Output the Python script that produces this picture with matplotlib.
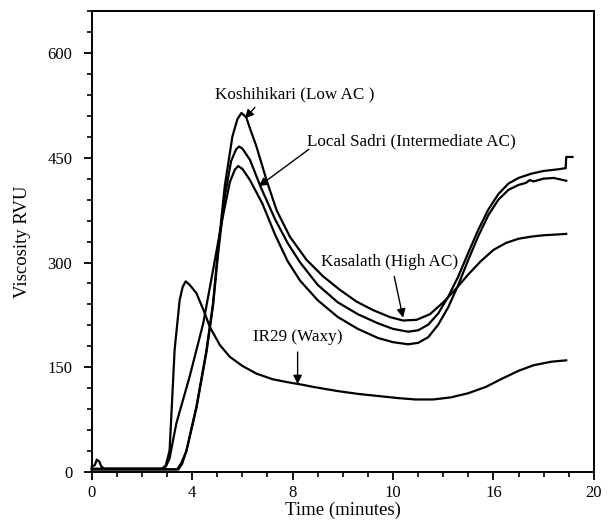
import matplotlib
matplotlib.use('Agg')
import matplotlib.pyplot as plt
from matplotlib.ticker import MultipleLocator, FixedLocator

plt.rcParams.update({
    'font.family': ['Liberation Serif', 'DejaVu Serif'],
    'font.size': 11,
})

# ── data ─────────────────────────────────────────────────────────────────────
# IR29 (waxy)
ir29_t = [0.0, 0.12, 0.2, 0.3, 0.38, 0.5, 1.5, 2.8, 2.95, 3.1, 3.3, 3.5, 3.62, 3.74,
          3.9, 4.17, 4.45, 4.7, 5.1, 5.5, 6.0, 6.56, 7.2, 7.76, 8.4, 8.82, 9.8,
          10.6, 11.4, 12.2, 12.9, 13.6, 14.3, 15.0, 15.7, 16.3, 17.0, 17.6, 18.3, 18.9]
ir29_v = [8, 10, 18, 15, 8, 5, 5, 5, 10, 31, 175, 246, 265, 273,
          268, 256, 232, 208, 182, 165, 152, 141, 133, 129, 125, 122, 116,
          112, 109, 106, 104, 104, 107, 113, 122, 133, 145, 153, 158, 160]

# three non-waxy cultivars
kosh_t = [0.0, 2.0, 3.45, 3.6, 3.77, 4.17, 4.57, 4.83, 5.03, 5.3, 5.6, 5.8, 5.96,
          6.15, 6.3, 6.56, 6.96, 7.36, 7.89, 8.55, 9.22, 9.88, 10.55, 11.2, 11.87,
          12.4, 12.94, 13.47, 14.0, 14.5, 15.0, 15.5, 16.0, 16.5, 17.0, 17.5, 18.0,
          18.5, 18.9]
kosh_v = [4, 4, 4, 12, 31, 94, 175, 242, 318, 410, 480, 505, 514,
          508, 492, 466, 418, 375, 337, 304, 280, 261, 244, 232, 222,
          217, 218, 226, 243, 262, 283, 302, 318, 328, 334, 337, 339,
          340, 341]

sadri_t = [0.0, 2.0, 3.4, 3.55, 3.77, 4.17, 4.57, 4.83, 5.03, 5.3, 5.55, 5.75, 5.87,
           6.0, 6.3, 6.73, 7.3, 7.8, 8.3, 9.0, 9.8, 10.6, 11.4, 12.0, 12.6, 13.0,
           13.4, 13.8, 14.2, 14.6, 15.0, 15.4, 15.8, 16.2, 16.6, 17.0, 17.5, 18.0,
           18.5, 18.88, 18.9, 19.15]
sadri_v = [4, 4, 4, 12, 30, 92, 172, 238, 312, 395, 445, 462, 466,
           463, 447, 408, 362, 328, 300, 268, 243, 226, 213, 205, 201, 203,
           211, 227, 251, 280, 314, 347, 376, 398, 413, 421, 427, 431,
           433, 435, 451, 451]

kasa_t = [0.0, 2.0, 2.8, 2.95, 3.1, 3.37, 3.9, 4.44, 4.83, 5.2, 5.5, 5.7, 5.83,
          6.0, 6.3, 6.8, 7.3, 7.8, 8.3, 9.0, 9.8, 10.6, 11.4, 12.0, 12.6, 13.0,
          13.4, 13.8, 14.2, 14.6, 15.0, 15.4, 15.8, 16.2, 16.6, 17.0, 17.3, 17.45,
          17.6, 18.0, 18.4, 18.9]
kasa_v = [5, 5, 5, 8, 20, 70, 137, 213, 289, 362, 415, 433, 438,
          434, 418, 384, 340, 302, 274, 246, 222, 205, 192, 186, 183, 185,
          193, 211, 236, 268, 304, 338, 368, 390, 404, 411, 414, 418,
          416, 420, 421, 417]

# annotations: text, text position, arrow tail, arrow tip
labels = ['Koshihikari (Low AC )', 'Local Sadri (Intermediate AC)',
          'Kasalath (High AC)', 'IR29 (Waxy)']
label_pos = [(8.1, 540), (12.75, 473), (11.85, 301), (8.2, 193)]
arrow_tail = [(6.5, 522), (8.65, 462), (12.05, 280), (8.2, 172)]
arrow_tip = [(6.1, 506), (6.65, 409), (12.4, 221), (8.2, 126)]

xticks = [0, 4, 8, 12, 16, 20]
xticklabels = ['0', '4', '8', '10', '16', '20']
yticks = [0, 150, 300, 450, 600]

fig = plt.figure(figsize=(6.16, 5.2), dpi=100)
ax = fig.add_axes([0.149, 0.092, 0.815, 0.887])

for t, v in [(ir29_t, ir29_v), (kosh_t, kosh_v), (sadri_t, sadri_v), (kasa_t, kasa_v)]:
    ax.plot(t, v, color='black', lw=1.6, solid_joinstyle='round', clip_on=False)

for txt, (tx, ty), tail, tip in zip(labels, label_pos, arrow_tail, arrow_tip):
    ax.text(tx, ty, txt, ha='center', va='center', fontsize=12.3)
    ax.annotate('', xy=tip, xytext=tail,
                arrowprops=dict(arrowstyle='-|>', color='black', lw=1.0,
                                mutation_scale=13, shrinkA=0, shrinkB=0))

ax.set_xlim(0, 20)
ax.set_ylim(0, 660)
ax.xaxis.set_major_locator(FixedLocator(xticks))
ax.set_xticklabels(xticklabels)
ax.xaxis.set_minor_locator(MultipleLocator(1))
ax.yaxis.set_major_locator(FixedLocator(yticks))
ax.yaxis.set_minor_locator(MultipleLocator(30))
ax.tick_params(which='major', direction='out', length=6, width=1.3, labelsize=12, pad=3)
ax.tick_params(which='minor', direction='out', length=3.5, width=1.2)
ax.tick_params(axis='y', which='major', pad=8)
for s in ax.spines.values():
    s.set_linewidth(1.4)

ax.set_xlabel('Time (minutes)', fontsize=13.5, labelpad=1)
ax.set_ylabel('Viscosity RVU', fontsize=13.5, labelpad=12)

fig.savefig('out.png', dpi=100)
